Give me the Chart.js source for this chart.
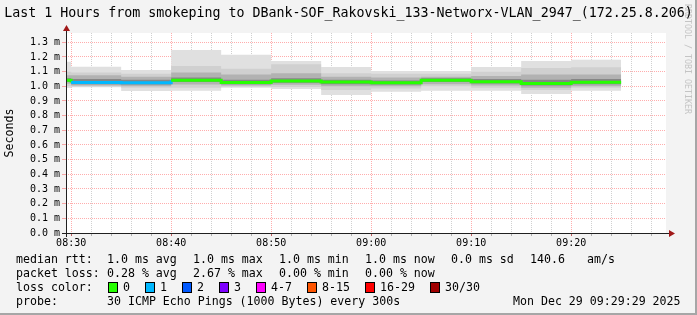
<!DOCTYPE html>
<html><head><meta charset="utf-8">
<script src="https://cdn.jsdelivr.net/npm/chart.js@4.4.1/dist/chart.umd.min.js"></script>
<style>
html,body{margin:0;padding:0;background:#f3f3f3;}
#wrap{position:relative;width:697px;height:315px;background:#f3f3f3;overflow:hidden;font-family:"DejaVu Sans Mono",monospace;color:#000;}
canvas{position:absolute;left:0;top:0;}
.t{position:absolute;white-space:pre;font-size:11.6px;line-height:14px;}
.box{position:absolute;width:8px;height:9px;border:1px solid #000;}
#title{position:absolute;left:0;top:5px;width:697px;text-align:center;font-size:13.3px;line-height:16px;white-space:pre;}
#wm{position:absolute;left:683px;top:4px;writing-mode:vertical-rl;font-size:8.3px;line-height:10px;color:#c4c4c4;white-space:pre;}
#fr{position:absolute;left:695px;top:0;width:2px;height:315px;background:#a6a6a6;}
#fb{position:absolute;left:0;top:313px;width:697px;height:2px;background:#a6a6a6;}
</style></head>
<body>
<div id="wrap">
<canvas id="c" width="697" height="315"></canvas>
<div id="wm">RRDTOOL / TOBI OETIKER</div>
<div id="title">Last 1 Hours from smokeping to DBank-SOF_Rakovski_133-Networx-VLAN_2947_(172.25.8.206)</div>
<div class="t" style="left:16px;top:252px">median rtt:</div>
<div class="t" style="left:107px;top:252px">1.0 ms avg</div>
<div class="t" style="left:193px;top:252px">1.0 ms max</div>
<div class="t" style="left:279px;top:252px">1.0 ms min</div>
<div class="t" style="left:365px;top:252px">1.0 ms now</div>
<div class="t" style="left:451px;top:252px">0.0 ms sd</div>
<div class="t" style="left:530px;top:252px">140.6</div>
<div class="t" style="left:587px;top:252px">am/s</div>
<div class="t" style="left:16px;top:266px">packet loss:</div>
<div class="t" style="left:107px;top:266px">0.28 % avg</div>
<div class="t" style="left:193px;top:266px">2.67 % max</div>
<div class="t" style="left:279px;top:266px">0.00 % min</div>
<div class="t" style="left:365px;top:266px">0.00 % now</div>
<div class="t" style="left:16px;top:280px">loss color:</div>
<div id="lossLegend"></div>
<div class="t" style="left:16px;top:294px">probe:</div>
<div class="t" style="left:107px;top:294px">30 ICMP Echo Pings (1000 Bytes) every 300s</div>
<div class="t" style="left:513px;top:294px">Mon Dec 29 09:29:29 2025</div>
<div id="fr"></div><div id="fb"></div>
</div>
<script>
// ---- data ----
const windowStart = '08:29:29';
const windowEnd = '09:29:29';
const segStarts = ['08:25','08:30','08:35','08:40','08:45','08:50','08:55','09:00','09:05','09:10','09:15','09:20'];
const segEnd = '09:25';
const medianMs = [1.041,1.026,1.025,1.042,1.026,1.036,1.029,1.024,1.042,1.031,1.020,1.027];
const lossPings = [0,1,1,0,0,0,0,0,0,0,0,0];
const maxMs = [1.168,1.134,1.111,1.247,1.215,1.172,1.132,1.104,1.104,1.132,1.172,1.181];
const p90Ms = [1.100,1.095,1.085,1.138,1.120,1.150,1.090,1.085,1.085,1.100,1.125,1.130];
const p75Ms = [1.075,1.075,1.065,1.095,1.080,1.090,1.065,1.060,1.065,1.070,1.080,1.080];
const p60Ms = [1.055,1.050,1.045,1.060,1.045,1.055,1.045,1.040,1.055,1.050,1.045,1.050];
const p40Ms = [1.030,1.015,1.012,1.030,1.015,1.025,1.015,1.012,1.030,1.020,1.005,1.015];
const p25Ms = [1.018,1.005,1.000,1.012,1.005,1.010,1.000,1.000,1.015,1.005,0.990,1.000];
const p10Ms = [1.000,0.998,0.990,0.990,0.997,0.995,0.975,0.985,1.000,0.990,0.975,0.990];
const minMs = [0.988,0.993,0.968,0.970,0.990,0.982,0.941,0.963,0.970,0.970,0.948,0.970];
const yTicks = [0,0.1,0.2,0.3,0.4,0.5,0.6,0.7,0.8,0.9,1.0,1.1,1.2,1.3];
const xTickLabels = ['08:30','08:40','08:50','09:00','09:10','09:20'];
const lossLabels = ['0','1','2','3','4-7','8-15','16-29','30/30'];
const lossColors = ['#26ff00','#00b8ff','#0059ff','#7e00ff','#ff00ff','#ff5500','#ff0000','#a00000'];
const yMax = 1.3636;

// ---- helpers ----
function toSec(s){const p=s.split(':').map(Number);return p[0]*3600+p[1]*60+(p[2]||0);}
function fmt(v){const h=Math.floor(v/3600),m=Math.floor((v%3600)/60);return String(h).padStart(2,'0')+':'+String(m).padStart(2,'0');}
const tStart = toSec(windowStart), tEnd = toSec(windowEnd);
const majorSecs = xTickLabels.map(toSec);
const xTickVals = [];
for(let v=majorSecs[0]; v<tEnd; v+=120) xTickVals.push(v);
function series(arr){
  const pts = segStarts.map((s,i)=>({x:Math.max(toSec(s),tStart), y:arr[i]}));
  pts.push({x:toSec(segEnd), y:arr[arr.length-1]});
  return pts;
}
const band = (label,arr,order,fill,color)=>({label,data:series(arr),stepped:'before',borderWidth:0,pointRadius:0,order,fill:fill===null?false:{target:fill},backgroundColor:color});

// loss legend
const ll = document.getElementById('lossLegend');
const boxX = [108,145,182,219,256,307,365,430];
lossLabels.forEach((lab,i)=>{
  const b=document.createElement('div');b.className='box';b.style.left=boxX[i]+'px';b.style.top='282px';b.style.background=lossColors[i];ll.appendChild(b);
  const t=document.createElement('div');t.className='t';t.style.left=(boxX[i]+15)+'px';t.style.top='280px';t.textContent=lab;ll.appendChild(t);
});

const MAJOR='rgba(255,0,0,0.32)', MINOR='rgba(120,120,120,0.35)';
const bgPlugin={id:'bg',beforeDraw(chart){const {ctx,chartArea:a}=chart;ctx.save();ctx.fillStyle='#fff';ctx.fillRect(a.left,a.top,a.right-a.left,a.bottom-a.top);ctx.restore();}};
const axisPlugin={id:'axes',afterDraw(chart){
  const {ctx,chartArea:a}=chart;ctx.save();
  ctx.strokeStyle='#202020';ctx.lineWidth=1;
  ctx.beginPath();ctx.moveTo(a.left+0.5,a.bottom+4);ctx.lineTo(a.left+0.5,a.top-3);ctx.stroke();
  ctx.beginPath();ctx.moveTo(a.left-4,a.bottom+0.5);ctx.lineTo(a.right+4,a.bottom+0.5);ctx.stroke();
  ctx.fillStyle='#a01818';
  ctx.beginPath();ctx.moveTo(a.left+0.5,a.top-8);ctx.lineTo(a.left-3,a.top-2);ctx.lineTo(a.left+4,a.top-2);ctx.closePath();ctx.fill();
  ctx.beginPath();ctx.moveTo(a.right+9,a.bottom+0.5);ctx.lineTo(a.right+3,a.bottom-3);ctx.lineTo(a.right+3,a.bottom+4);ctx.closePath();ctx.fill();
  ctx.restore();
}};

new Chart(document.getElementById('c'),{
  type:'line',
  data:{datasets:[
    band('max',maxMs,9,1,'#e0e0e0'),
    band('min',minMs,9,null,'#e0e0e0'),
    band('p90',p90Ms,7,3,'#d0d0d0'),
    band('p10',p10Ms,7,null,'#d0d0d0'),
    band('p75',p75Ms,5,5,'#b2b2b2'),
    band('p25',p25Ms,5,null,'#b2b2b2'),
    band('p60',p60Ms,3,7,'#868686'),
    band('p40',p40Ms,3,null,'#868686'),
    {label:'median',data:series(medianMs),stepped:'before',borderWidth:3,pointRadius:0,order:0,fill:false,
     borderColor:lossColors[0],
     segment:{borderColor:ctx=>lossColors[lossPings[ctx.p0DataIndex]]||lossColors[lossPings[lossPings.length-1]]}}
  ]},
  options:{
    responsive:false,animation:false,events:[],
    layout:{padding:{left:0,top:33,right:31,bottom:62}},
    plugins:{legend:{display:false},tooltip:{enabled:false}},
    scales:{
      x:{type:'linear',min:tStart,max:tEnd,z:1,
        afterBuildTicks:s=>{s.ticks=xTickVals.map(v=>({value:v}));},
        afterFit:s=>{s.height=20;},
        ticks:{autoSkip:false,maxRotation:0,minRotation:0,padding:1,color:'#000',
          font:{family:'DejaVu Sans Mono',size:10},
          callback:v=>majorSecs.includes(v)?fmt(v):''},
        grid:{color:ctx=>(ctx.tick&&majorSecs.includes(ctx.tick.value))?MAJOR:MINOR,tickLength:3,
          tickColor:ctx=>(ctx.tick&&majorSecs.includes(ctx.tick.value))?'#c06060':'#b0b0b0'},
        border:{display:false,dash:[1,1]}},
      y:{min:0,max:yMax,z:1,
        afterBuildTicks:s=>{s.ticks=yTicks.map(v=>({value:v}));},
        afterFit:s=>{s.width=66;},
        ticks:{padding:2,color:'#000',font:{family:'DejaVu Sans Mono',size:10},callback:v=>v.toFixed(1)+' m'},
        grid:{color:MAJOR,tickLength:4},
        border:{display:false,dash:[1,1]},
        title:{display:true,text:'Seconds',color:'#000',font:{family:'DejaVu Sans Mono',size:11.6},padding:{top:3,bottom:0}}}
    }
  },
  plugins:[bgPlugin,axisPlugin]
});
</script>
</body></html>
